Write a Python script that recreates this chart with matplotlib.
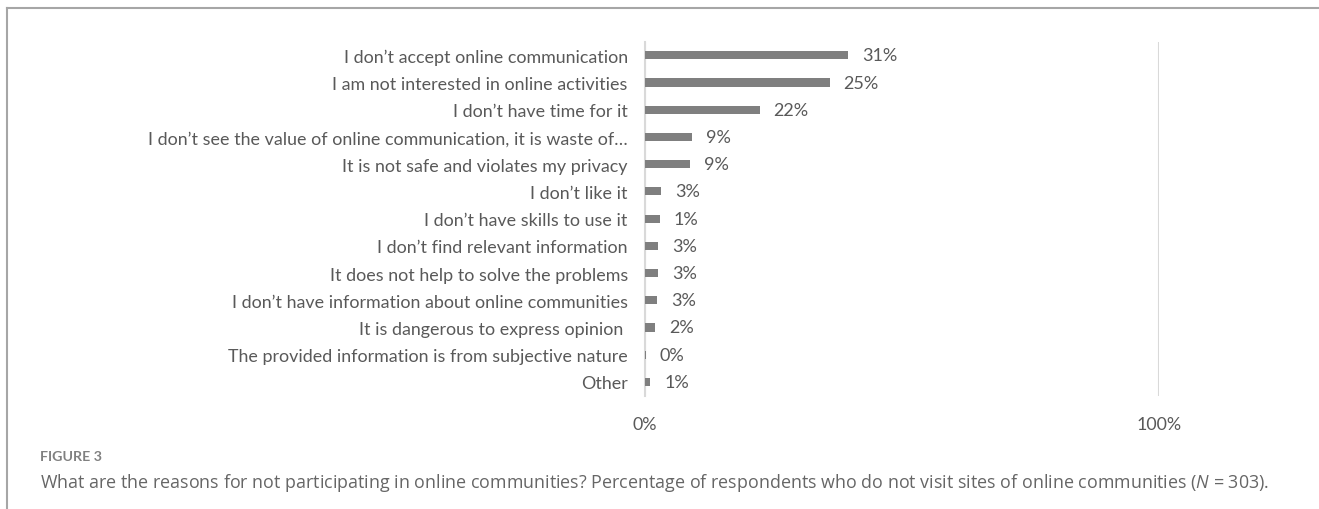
import matplotlib
matplotlib.use("Agg")
import matplotlib.pyplot as plt
from matplotlib.lines import Line2D

plt.rcParams['font.family'] = ['Lato', 'DejaVu Sans']
plt.rcParams['mathtext.fontset'] = 'custom'
plt.rcParams['mathtext.rm'] = 'Open Sans'
plt.rcParams['mathtext.it'] = 'Open Sans:italic'

categories = [
    "I don\u2019t accept online communication",
    "I am not interested in online activities",
    "I don\u2019t have time for it",
    "I don\u2019t see the value of online communication, it is waste of\u2026",
    "It is not safe and violates my privacy",
    "I don\u2019t like it",
    "I don\u2019t have skills to use it",
    "I don\u2019t find relevant information",
    "It does not help to solve the problems",
    "I don\u2019t have information about online communities",
    "It is dangerous to express opinion ",
    "The provided information is from subjective nature",
    "Other",
]
# bar lengths as drawn in the original chart
bar_values = [39.6, 36.0, 22.4, 9.3, 8.9, 3.3, 3.0, 2.7, 2.6, 2.5, 2.1, 0.3, 1.1]
# data labels as printed in the original chart
value_labels = ["31%", "25%", "22%", "9%", "9%", "3%", "1%", "3%", "3%", "3%", "2%", "0%", "1%"]

W, H = 1319, 510
fig = plt.figure(figsize=(W / 100, H / 100), dpi=100)

# frame lines of the figure panel
fig.add_artist(Line2D([6.5 / W, 1], [1 - 9 / H, 1 - 9 / H], color="#a6a6a6", lw=1.5))
fig.add_artist(Line2D([6.5 / W, 6.5 / W], [0, 1 - 9 / H], color="#a6a6a6", lw=1.5))

x0, x1 = 644.5, 1158.7
y_top, y_bot = 42.7, 396.5
ax = fig.add_axes([x0 / W, 1 - y_bot / H, (x1 - x0) / W, (y_bot - y_top) / H])

y = list(range(len(categories)))
ax.barh(y, bar_values, height=0.3, color="#7f7f7f", zorder=3)
for yi, v, lab in zip(y, bar_values, value_labels):
    ax.annotate(lab, (v, yi), xytext=(10, 0), textcoords="offset points",
                va="center", ha="left", fontsize=13, color="#595959")

ax.set_xlim(0, 100)
ax.set_ylim(len(categories) - 0.5, -0.5)
ax.set_yticks(y)
ax.set_yticklabels(categories, fontsize=12.9, color="#595959")
ax.set_xticks([0, 100])
ax.set_xticklabels(["0%", "100%"], fontsize=12.9, color="#595959")
ax.tick_params(axis="both", length=0)
ax.tick_params(axis="y", pad=12)
ax.tick_params(axis="x", pad=15)
ax.grid(axis="x", color="#d9d9d9", lw=1.5, zorder=0)
for s in ["top", "right", "bottom"]:
    ax.spines[s].set_visible(False)
ax.spines["left"].set_color("#d9d9d9")
ax.spines["left"].set_linewidth(1.5)

fig.text(40 / W, 1 - 457 / H, "FIGURE 3", fontsize=10.3, color="#808080",
         fontweight="bold", va="center", ha="left")
fig.text(40 / W, 1 - 483 / H,
         "What are the reasons for not participating in online communities? "
         "Percentage of respondents who do not visit sites of online communities "
         "($\\it{N}$ = 303).",
         fontsize=12.9, color="#666666", va="center", ha="left", family="Open Sans")

fig.savefig("out.png", dpi=100)
